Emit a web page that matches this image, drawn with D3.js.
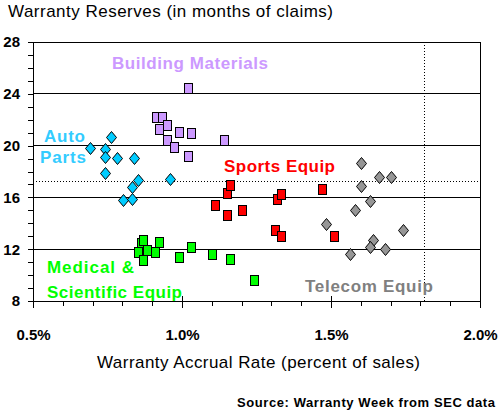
<!DOCTYPE html>
<html>
<head>
<meta charset="utf-8">
<script src="https://cdn.jsdelivr.net/npm/d3@7"></script>
<style>
  html, body { margin: 0; padding: 0; background: #fff; }
  svg { display: block; font-family: Arial, "Liberation Sans", sans-serif; }
</style>
</head>
<body>
<svg id="chart" width="500" height="413"></svg>
<script>
// ---- Data (x = warranty accrual rate %, y = reserves in months of claims) ----
const buildingMaterials = [
  [0.912, 22.19], [0.934, 22.19], [0.923, 21.28], [0.951, 21.59], [0.991, 21.07],
  [1.030, 21.00], [1.142, 20.46], [0.951, 20.46], [0.974, 19.87], [1.021, 19.22], [1.021, 24.42]
];
const autoParts = [
  [0.762, 20.64], [0.692, 19.84], [0.741, 19.76], [0.741, 19.14], [0.782, 19.02],
  [0.840, 19.07], [0.741, 17.88], [0.961, 17.40], [0.831, 16.84], [0.851, 17.32],
  [0.801, 15.80], [0.832, 15.90]
];
const sportsEquip = [
  [1.152, 16.34], [1.162, 16.96], [1.112, 15.39], [1.152, 14.62], [1.202, 15.05],
  [1.320, 15.90], [1.331, 16.29], [1.471, 16.67], [1.313, 13.46], [1.331, 13.02], [1.511, 13.04]
];
const medicalEquip = [
  [0.861, 12.46], [0.870, 12.71], [0.923, 12.53], [0.882, 11.94], [0.910, 11.81],
  [0.852, 11.81], [0.870, 11.17], [0.991, 11.41], [1.031, 12.17], [1.102, 11.61],
  [1.162, 11.22], [1.243, 9.62]
];
const telecomEquip = [
  [1.601, 18.69], [1.662, 17.54], [1.702, 17.54], [1.601, 16.86], [1.632, 15.72],
  [1.582, 15.04], [1.482, 13.92], [1.741, 13.48], [1.642, 12.71], [1.632, 12.19],
  [1.682, 12.00], [1.563, 11.61]
];
const averageRate = 1.813;     // vertical dotted line
const averageReserve = 17.26;  // horizontal dotted line

const xTickValues = [0.5, 1.0, 1.5, 2.0];
const xTickLabels = ["0.5%", "1.0%", "1.5%", "2.0%"];
const xMinorTicks = [0.6, 0.7, 0.8, 0.9, 1.1, 1.2, 1.3, 1.4, 1.6, 1.7, 1.8, 1.9];
const yTickValues = [8, 12, 16, 20, 24, 28];
const yTickLabels = ["8", "12", "16", "20", "24", "28"];
const yMinorTicks = [9, 10, 11, 13, 14, 15, 17, 18, 19, 21, 22, 23, 25, 26, 27];

const chartTitle = "Warranty Reserves (in months of claims)";
const xTitle = "Warranty Accrual Rate (percent of sales)";
const sourceText = "Source: Warranty Week from SEC data";

// ---- Layout ----
const svg = d3.select("#chart");
const x = d3.scaleLinear().domain([0.5, 2.0]).range([33, 480]);
const y = d3.scaleLinear().domain([8, 28]).range([301, 42]);

// Gridlines
svg.append("g").selectAll("line").data(yTickValues).join("line")
  .attr("x1", x(0.5)).attr("x2", x(2.0))
  .attr("y1", d => y(d)).attr("y2", d => y(d))
  .attr("stroke", "#000").attr("stroke-width", 1).attr("shape-rendering", "crispEdges");

// Plot border (right side)
svg.append("line")
  .attr("x1", x(2.0)).attr("x2", x(2.0)).attr("y1", y(28)).attr("y2", y(8) + 7)
  .attr("stroke", "#000").attr("shape-rendering", "crispEdges");

// Average lines (dotted)
svg.append("line")
  .attr("x1", x(0.5)).attr("x2", x(2.0) + 2)
  .attr("y1", y(averageReserve)).attr("y2", y(averageReserve))
  .attr("stroke", "#000").attr("stroke-dasharray", "1,2").attr("shape-rendering", "crispEdges");
svg.append("line")
  .attr("x1", x(averageRate)).attr("x2", x(averageRate))
  .attr("y1", y(28)).attr("y2", y(8))
  .attr("stroke", "#000").attr("stroke-dasharray", "1,2").attr("shape-rendering", "crispEdges");

// X axis: minor ticks, major ticks
const xAxisG = svg.append("g").attr("transform", `translate(0,${y(8)})`);
xAxisG.append("g")
  .call(d3.axisBottom(x).tickValues(xMinorTicks).tickSize(5).tickFormat(""))
  .call(g => g.select(".domain").remove());
xAxisG.append("g")
  .call(d3.axisBottom(x).tickValues(xTickValues).tickSizeInner(7).tickSizeOuter(0)
        .tickPadding(21).tickFormat((d, i) => xTickLabels[i]))
  .call(g => g.select(".domain").attr("stroke", "#000"))
  .call(g => g.selectAll(".tick line").attr("y1", -5))
  .call(g => g.selectAll(".tick text")
        .attr("font-size", 15).attr("font-weight", "bold")
        .attr("font-family", "Arial, 'Liberation Sans', sans-serif").attr("fill", "#000"));

// Y axis
const yAxisG = svg.append("g").attr("transform", `translate(${x(0.5)},0)`);
yAxisG.append("g")
  .call(d3.axisLeft(y).tickValues(yMinorTicks).tickSize(5).tickFormat(""))
  .call(g => g.select(".domain").remove());
yAxisG.append("g")
  .call(d3.axisLeft(y).tickValues(yTickValues).tickSizeInner(5).tickSizeOuter(0)
        .tickPadding(8).tickFormat((d, i) => yTickLabels[i]))
  .call(g => g.select(".domain").attr("stroke", "#000"))
  .call(g => g.selectAll(".tick text")
        .attr("font-size", 15).attr("font-weight", "bold")
        .attr("font-family", "Arial, 'Liberation Sans', sans-serif").attr("fill", "#000"));

svg.selectAll(".tick line, .domain").attr("shape-rendering", "crispEdges");

// Markers
const diamond = (cx, cy) => `M${cx},${cy - 6}L${cx + 5},${cy}L${cx},${cy + 6}L${cx - 5},${cy}Z`;

function squares(data, fill) {
  svg.append("g").selectAll("rect").data(data).join("rect")
    .attr("x", d => Math.round(x(d[0])) - 4 + 0.5)
    .attr("y", d => Math.round(y(d[1])) - 5 + 0.5)
    .attr("width", 8).attr("height", 10)
    .attr("fill", fill).attr("stroke", "#000").attr("stroke-width", 1);
}
function diamonds(data, fill) {
  svg.append("g").selectAll("path").data(data).join("path")
    .attr("d", d => diamond(Math.round(x(d[0])) + 0.5, Math.round(y(d[1])) + 0.5))
    .attr("fill", fill).attr("stroke", "#000").attr("stroke-width", 1);
}
squares(buildingMaterials, "#CC99FF");
diamonds(autoParts, "#00CCFF");
squares(sportsEquip, "#FF0000");
squares(medicalEquip, "#00FF00");
diamonds(telecomEquip, "#969696");

// Series labels
function label(txt, lx, ly, color, len) {
  svg.append("text").attr("x", lx).attr("y", ly)
    .attr("font-size", 17).attr("font-weight", "bold").attr("fill", color)
    .attr("textLength", len).attr("lengthAdjust", "spacing")
    .text(txt);
}
label("Building Materials", 112, 69, "#CC99FF", 156);
label("Auto", 44, 142, "#33CCFF", 41);
label("Parts", 40, 163, "#33CCFF", 46);
label("Sports Equip", 224, 172, "#FF0000", 111);
label("Medical &", 47, 273, "#00FF00", 87);
label("Scientific Equip", 47, 298, "#00FF00", 135);
label("Telecom Equip", 305, 292, "#808080", 128);

// Titles
svg.append("text").attr("x", 8).attr("y", 17)
  .attr("font-size", 17).attr("fill", "#000")
  .attr("textLength", 325).attr("lengthAdjust", "spacing")
  .text(chartTitle);
svg.append("text").attr("x", 97).attr("y", 368)
  .attr("font-size", 17).attr("fill", "#000")
  .attr("textLength", 323).attr("lengthAdjust", "spacing")
  .text(xTitle);
svg.append("text").attr("x", 237).attr("y", 407)
  .attr("font-size", 13).attr("font-weight", "bold").attr("fill", "#000")
  .attr("textLength", 258).attr("lengthAdjust", "spacing")
  .text(sourceText);
</script>
</body>
</html>
